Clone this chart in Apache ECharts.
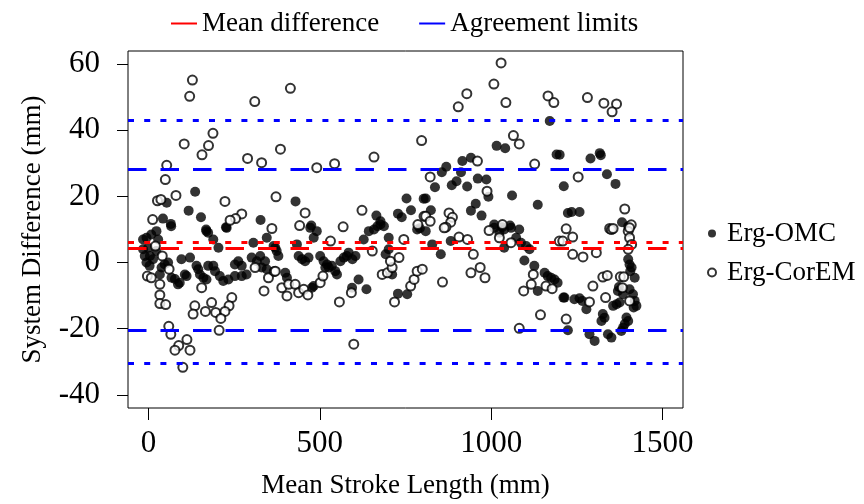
<!DOCTYPE html>
<html><head><meta charset="utf-8">
<script src="https://cdn.jsdelivr.net/npm/echarts@6/dist/echarts.min.js"></script>
<style>html,body{margin:0;padding:0;background:#fff}#c{width:864px;height:504px}</style>
</head><body><div id="c"></div>
<script>
const xTicks = [0, 500, 1000, 1500];
const yTicks = [-40, -20, 0, 20, 40, 60];
const meanDiffOMC = 4.2;
const meanDiffCorEM = 6.2;
const limitsOMC = [-20.5, 28.3];
const limitsCorEM = [-30.4, 43.1];

const omcPoints = [
[136,21.4],[53,18.1],[117,15.7],[153,13.7],[42,13.3],[65,11.7],[327,12.9],[168,10],[226,10.7],
[429,18.5],[475,11.2],[665,14.2],[677,12.5],[687,11],[728,14.8],[739,13.7],[753,19.4],[766,15.8],[803,19.3],[792,10.4],
[1171,42.8],[1016,35.3],[1041,34.6],[1191,32.7],[916,30.7],[941,31.7],[869,29],[856,27.3],[912,27.3],[836,22.8],[809,19.4],[885,23.4],[899,24.6],[930,23],[961,25.4],[986,25.1],[992,19.9],[1061,20.3],[1212,23.1],[1136,17.5],[824,15.8],[955,17.8],[941,15.7],[972,14.2],[1009,11.5],[1055,11.2],[1032,10.7],[1224,15],
[1290,31.5],[1317,33.1],[1320,32.5],[1200,32.6],[1338,26.7],[1363,23.8],[1235,15.3],[1258,15.3],[1382,12.2],[1400,11],
[-16,7],[-6,7.5],[8,8.5],[23,9.5],[28,7],[-1,4.5],[-16,4],[-11,2],[4,2],[-6,0],[3,-1],[13,1],[23,3.5],[38,-1.5],[33,-3.6],[47,-0.5],[57,0],[67,-4.6],[77,-5],[86,-6.6],[91,-6.1],[96,1],[106,-3.6],[111,-4.1],[121,1.5],[140,-1],[145,-2],[150,-3.6],[160,-4.6],[169,-5.1],[174,-1],[189,-1],[194,-2.6],[208,-4.1],[218,-5.6],[233,-5.1],[252,-4.1],[272,-4.1],[286,-3.6],[252,-0.6],[262,0.4],[272,-1],[301,1.5],[316,0.4],[326,2],[340,0.4],[330,-1.5],[345,-2],[169,9.5],[174,9],[189,7],[204,4.5],[228,10.5],[306,6],[345,7.5],[370,4.5],[66,11],
[374,3.5],[379,2],[365,5],[399,-3.1],[404,-4.6],[433,5.5],[438,2],[448,1],[457,0.4],[467,1.5],[477,-7.6],[482,-7.1],[482,7.5],[491,9.5],[472,10.5],[501,2],[511,0.4],[521,-0.6],[526,-1.5],[535,-1],[545,-2.6],[550,-3.6],[516,-1.5],[560,0.4],[570,1.5],[579,2],[584,3],[595,1],[604,2],[594,-7.6],[613,-5.1],[636,-8.1],[628,7],[643,9.5],[658,10],[668,11],[677,11.5],[692,2.5],[701,4],[701,7.5],[711,-3.6],[728,-9.4],[755,-9.6],[784,10],
[809,9.5],[828,5.5],[853,2.5],[882,6.5],[1009,10.5],[1024,9],[1038,10],[1058,10.5],[1082,10],[1038,4.5],[1073,7.5],[1087,6],[1102,5],[1112,4],[1097,0.6],[1126,-1],[1156,-3.1],[1165,-4.1],[1175,-4.6],[1185,-5.1],[1194,-6.1],[1136,-8.6],[1211,-10.6],[1224,-20.5],
[1404,-0.6],[1410,-1.5],[1419,-4.6],[1406,-2.6],[1214,-10.6],[1243,-11.1],[1258,-10.8],[1266,-11.6],[1278,-14.1],[1370,-8.6],[1385,-9.6],[1373,-7.4],[1404,-8.1],[1414,-9.6],[1419,-11.6],[1424,-13.1],[1416,-13.6],[1356,-13.1],[1366,-12.6],[1375,-12.1],[1326,-15.6],[1322,-17.7],[1331,-16.7],[1395,-16.6],[1400,-17.7],[1390,-18.6],[1385,-19.7],[1380,-20.7],[1287,-21.7],[1302,-23.7],[1341,-21.7],[1351,-22.7],[1400,1]
];

const coremPoints = [
[128,55.2],[120,50.3],[310,48.7],[188,39.1],[104,35.9],[175,35.4],[156,32.6],[289,31.5],[330,30.2],[53,29.4],[49,25.1],[80,20.3],[26,18.7],[36,19.1],[223,18.5],[12,13],[272,14.7],[254,13.3],[238,12.8],[372,19.9],[360,10.3],[385,34.3],
[414,52.7],[491,28.7],[543,29.9],[658,31.9],[797,36.9],[457,15],[623,15.8],[441,11.2],[568,10.8],[786,11.5],[804,14],
[1029,60.4],[1008,54],[929,51.1],[904,47.1],[1043,48.4],[1166,50.4],[1183,48.4],[1065,38.4],[1082,35.9],[960,30.7],[1127,29.8],[822,25.9],[988,21.6],[809,14],[822,12.5],[877,15],[887,13.7],[882,12.2],[868,10.7],[1033,11.5],[1219,10.2],
[1281,49.9],[1329,48.2],[1366,48],[1353,45.6],[1254,25.9],[1390,16.2],[1346,10.3],[1409,11.4],
[-3.5,-4.1],[8,-4.6],[33,-6.6],[33,-9.8],[33,-12.4],[50,-12.7],[155,-7.6],[135,-13.1],[130,-15.6],[184,-12.1],[166,-14.8],[196,-15.1],[243,-10.6],[235,-13.1],[223,-14.8],[211,-16.9],[206,-20.5],[337,-8.6],[350,-4.6],[367,-2.7],[311,-1.5],[59,-19.3],[65,-21.7],[112,-23.3],[88,-25.1],[77,-26.5],[121,-26.5],[100,-31.7],[20,5],[40,2],[60,-2],
[531,6.5],[653,3.5],[745,7],[370,-2.6],[389,-7.6],[409,-6.6],[404,-10.1],[428,-6.6],[438,-9.1],[453,-8.1],[465,-9.8],[501,-6.1],[509,-4.1],[557,-11.9],[592,-9.1],[599,-24.7],[682,-3.6],[697,-3.1],[711,-1.5],[706,0.4],[718,-11.9],[765,-7.1],[775,-5.1],[784,-2.6],[731,1.5],
[863,10.5],[906,7.7],[931,7],[994,9.7],[1024,7.5],[948,2.5],[968,-1.5],[941,-3.1],[982,-4.6],[799,-2],[858,-5.9],[1058,6],[1123,-3.6],[1117,-6.6],[1095,-8.6],[1160,-7.1],[1178,-7.9],[1144,-15.8],[1082,-19.9],[1199,6.5],[1219,-17.1],
[1238,7.7],[1209,6.5],[1238,2.5],[1268,1.7],[1307,3],[1351,10],[1356,10.3],[1400,9.5],[1404,10.5],[1404,7.5],[1410,5.5],[1400,4],[1326,-4.4],[1339,-3.9],[1377,-4.3],[1387,-4.3],[1297,-7.1],[1383,-7.6],[1334,-10.6],[1287,-11.9],[1404,-11.6]
];

const FONT = '"Liberation Serif", "Times New Roman", serif';
const chart = echarts.init(document.getElementById('c'), null, {renderer: 'canvas'});
const dashed = [18.5, 14], dotted = [6, 10.2];
const plain = v => String(v);
chart.setOption({
  animation: false,
  backgroundColor: '#fff',
  textStyle: {fontFamily: FONT, color: '#000'},
  grid: {left: 128, right: 181, top: 51, bottom: 95, show: true, borderColor: '#000', borderWidth: 1, backgroundColor: 'transparent'},
  legend: [
    {data: ['Mean difference', 'Agreement limits'], left: 166, top: 5, icon: 'rect', itemWidth: 26, itemHeight: 2, itemGap: 40,
     textStyle: {fontFamily: FONT, fontSize: 27, color: '#000'}},
    {data: ['Erg-OMC', 'Erg-CorEM'], orient: 'vertical', left: 702, top: 215, itemWidth: 8, itemHeight: 8, itemGap: 12,
     textStyle: {fontFamily: FONT, fontSize: 27, color: '#000', padding: [0, 0, 0, 6]}}
  ],
  xAxis: {
    type: 'value', min: -60, max: 1560,
    name: 'Mean Stroke Length (mm)', nameLocation: 'middle', nameGap: 64,
    nameTextStyle: {fontFamily: FONT, fontSize: 27, color: '#000'},
    axisLine: {show: false, onZero: false}, splitLine: {show: false},
    axisTick: {show: true, length: 12, customValues: xTicks, lineStyle: {color: '#000'}},
    axisLabel: {customValues: xTicks, formatter: plain, fontFamily: FONT, fontSize: 31, color: '#000', margin: 20}
  },
  yAxis: {
    type: 'value', min: -44, max: 64,
    name: 'System Difference (mm)', nameLocation: 'middle', nameGap: 82,
    nameTextStyle: {fontFamily: FONT, fontSize: 27, color: '#000'},
    axisLine: {show: false, onZero: false}, splitLine: {show: false},
    axisTick: {show: true, length: 11, customValues: yTicks, lineStyle: {color: '#000'}},
    axisLabel: {customValues: yTicks, formatter: plain, fontFamily: FONT, fontSize: 31, color: '#000', margin: 28}
  },
  series: [
    {name: 'Erg-OMC', type: 'scatter', data: omcPoints, symbol: 'circle', symbolSize: 10,
     itemStyle: {color: '#000'}, z: 2},
    {name: 'Erg-CorEM', type: 'scatter', data: coremPoints, symbol: 'emptyCircle', symbolSize: 9,
     itemStyle: {color: '#000', borderColor: '#000', borderWidth: 1}, z: 2},
    {name: 'Mean difference', type: 'line', data: [], color: '#ff0000', lineStyle: {color: '#ff0000'}, z: 3,
     markLine: {silent: true, symbol: 'none', label: {show: false}, animation: false,
       data: [
         {yAxis: meanDiffOMC, lineStyle: {color: '#ff0000', width: 3, type: dashed}},
         {yAxis: meanDiffCorEM, lineStyle: {color: '#ff0000', width: 3, type: dotted}}
       ]}},
    {name: 'Agreement limits', type: 'line', data: [], color: '#0000ff', lineStyle: {color: '#0000ff'}, z: 3,
     markLine: {silent: true, symbol: 'none', label: {show: false}, animation: false,
       data: [
         {yAxis: limitsOMC[0], lineStyle: {color: '#0000ff', width: 3, type: dashed}},
         {yAxis: limitsOMC[1], lineStyle: {color: '#0000ff', width: 3, type: dashed}},
         {yAxis: limitsCorEM[0], lineStyle: {color: '#0000ff', width: 3, type: dotted}},
         {yAxis: limitsCorEM[1], lineStyle: {color: '#0000ff', width: 3, type: dotted}}
       ]}}
  ]
});
</script>
</body></html>
